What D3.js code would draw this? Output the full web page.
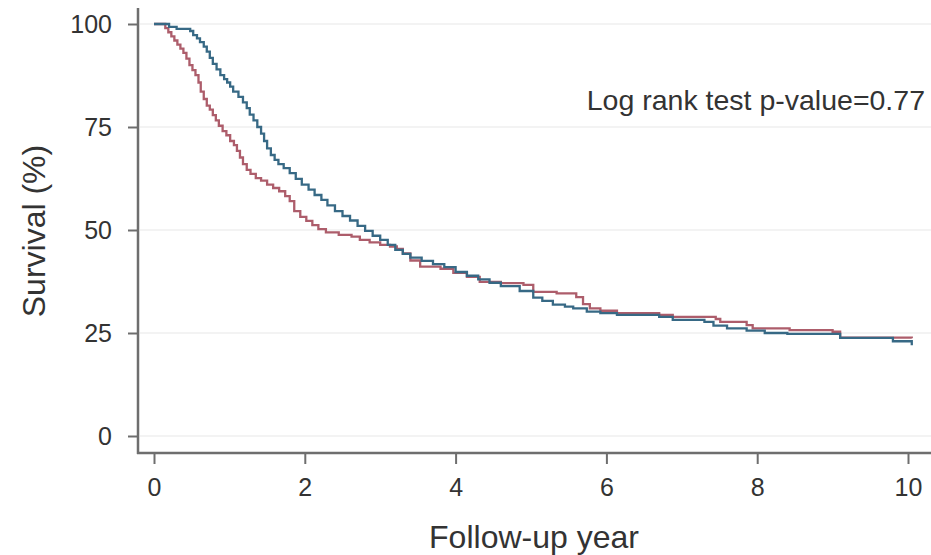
<!DOCTYPE html>
<html>
<head>
<meta charset="utf-8">
<script src="https://cdn.jsdelivr.net/npm/d3@7"></script>
<style>
  body { margin: 0; background: #fff; }
  svg text { font-family: "Liberation Sans", Arial, Helvetica, sans-serif; fill: #333; }
</style>
</head>
<body>
<div id="chart"></div>
<script>
/* global d3 */

// Kaplan-Meier steps (years, survival %)
var blueTime = [0, 0.2, 0.3, 0.48, 0.52, 0.57, 0.61, 0.66, 0.70, 0.74, 0.78, 0.83, 0.88, 0.93, 0.97, 1.01,
  1.05, 1.12, 1.18, 1.23, 1.27, 1.32, 1.37, 1.42, 1.46, 1.50, 1.55, 1.60, 1.65, 1.72, 1.80, 1.88, 1.96,
  2.05, 2.13, 2.22, 2.30, 2.40, 2.50, 2.60, 2.70, 2.80, 2.90, 3.00, 3.10, 3.20, 3.30, 3.40, 3.55, 3.70,
  3.85, 4.00, 4.15, 4.30, 4.45, 4.60, 4.85, 5.03, 5.15, 5.29, 5.45, 5.56, 5.74, 5.92, 6.14, 6.70, 6.88,
  7.30, 7.42, 7.60, 7.86, 8.10, 8.40, 9.10, 9.80, 10.05];
var blueSurv = [100, 99.3, 98.8, 98.3, 97.3, 96.5, 95.6, 94.5, 93.3, 91.8, 90.3, 89.0, 87.6, 86.6, 85.8, 84.8,
  83.6, 82.3, 81.0, 79.6, 78.0, 76.6, 75.0, 73.4, 71.6, 69.8, 68.2, 67.0, 66.0, 65.0, 63.8, 62.4, 61.0,
  59.8, 58.5, 57.3, 56.0, 54.6, 53.4, 52.3, 51.0, 49.8, 48.6, 47.6, 46.4, 45.2, 44.2, 43.3, 42.5, 41.7,
  41.0, 39.8, 38.9, 38.0, 37.2, 36.4, 35.2, 33.6, 32.8, 31.9, 31.4, 31.0, 30.2, 29.8, 29.4, 28.9, 28.2,
  27.7, 26.8, 26.1, 25.6, 25.0, 24.8, 23.8, 23.0, 22.0];

var redTime = [0, 0.15, 0.19, 0.23, 0.27, 0.31, 0.35, 0.39, 0.43, 0.47, 0.51, 0.55, 0.59, 0.62, 0.66, 0.70,
  0.74, 0.78, 0.82, 0.86, 0.91, 0.96, 1.01, 1.06, 1.10, 1.14, 1.18, 1.23, 1.28, 1.35, 1.42, 1.50, 1.58,
  1.66, 1.74, 1.80, 1.86, 1.94, 2.02, 2.10, 2.18, 2.28, 2.45, 2.62, 2.73, 2.86, 3.00, 3.13, 3.22, 3.30,
  3.40, 3.53, 3.80, 3.97, 4.15, 4.32, 4.60, 4.90, 5.03, 5.34, 5.60, 5.69, 5.78, 5.92, 6.14, 6.70, 6.88,
  7.45, 7.51, 7.86, 7.94, 8.43, 9.00, 9.10, 10.05];
var redSurv = [100, 99.0, 98.0, 97.0, 96.0, 95.0, 94.0, 93.0, 91.6, 90.0, 88.8, 87.6, 85.8, 83.6, 81.8, 80.2,
  79.2, 77.9, 76.6, 75.3, 74.0, 73.0, 71.6, 70.6, 69.2, 67.6, 66.0, 64.6, 63.6, 62.6, 62.0, 61.0, 60.2,
  59.4, 58.2, 57.0, 54.6, 53.2, 52.2, 51.2, 50.2, 49.4, 48.8, 48.4, 47.6, 47.0, 46.4, 46.0, 45.4, 44.3,
  42.6, 41.1, 40.6, 39.6, 38.6, 37.4, 37.1, 36.7, 35.0, 34.6, 33.7, 32.0, 31.0, 30.4, 29.8, 29.4, 28.9,
  28.4, 27.7, 26.9, 26.1, 25.7, 25.3, 23.9, 23.7];

var yTicks = [0, 25, 50, 75, 100];
var xTicks = [0, 2, 4, 6, 8, 10];
var xTitle = "Follow-up year",
  yTitle = "Survival (%)",
  pLabel = "Log rank test p-value=0.77";

var width = 931,
  height = 555,
  axisColor = "#6e6e6e",
  blueColor = "#376985",
  redColor = "#ad5d6b";

var x = d3.scaleLinear().domain([0, 10]).range([154, 908]);
var y = d3.scaleLinear().domain([0, 100]).range([436, 24]);

var svg = d3.select("#chart").append("svg")
  .attr("width", width)
  .attr("height", height);

// faint grid
svg.append("g")
  .selectAll("line")
  .data(yTicks)
  .join("line")
    .attr("x1", 140)
    .attr("x2", width)
    .attr("y1", function (d) { return y(d); })
    .attr("y2", function (d) { return y(d); })
    .attr("stroke", "#efefef")
    .attr("stroke-width", 1.5);

// survival curves
var line = d3.line()
  .curve(d3.curveStepAfter)
  .x(function (d) { return x(d[0]); })
  .y(function (d) { return y(d[1]); });

function pairs(t, s) { return t.map(function (v, i) { return [v, s[i]]; }); }

svg.append("path")
  .datum(pairs(redTime, redSurv))
  .attr("d", line)
  .attr("fill", "none")
  .attr("stroke", redColor)
  .attr("stroke-width", 2.3);

svg.append("path")
  .datum(pairs(blueTime, blueSurv))
  .attr("d", line)
  .attr("fill", "none")
  .attr("stroke", blueColor)
  .attr("stroke-width", 2.3);

// axes
var yAxis = svg.append("g")
  .attr("transform", "translate(138,0)")
  .call(d3.axisLeft(y).tickValues(yTicks).tickSize(10).tickPadding(16));

var xAxis = svg.append("g")
  .attr("transform", "translate(0,453)")
  .call(d3.axisBottom(x).tickValues(xTicks).tickSize(11).tickPadding(14));

[yAxis, xAxis].forEach(function (g) {
  g.select(".domain").remove();
  g.selectAll(".tick line").attr("stroke", axisColor).attr("stroke-width", 2);
  g.selectAll(".tick text")
    .attr("font-size", 25)
    .attr("font-family", null)
    .attr("fill", "#333");
});

svg.append("line")
  .attr("x1", 138).attr("x2", 138)
  .attr("y1", 8).attr("y2", 454)
  .attr("stroke", axisColor)
  .attr("stroke-width", 2.5);

svg.append("line")
  .attr("x1", 137).attr("x2", width)
  .attr("y1", 453).attr("y2", 453)
  .attr("stroke", axisColor)
  .attr("stroke-width", 2.5);

// titles
svg.append("text")
  .attr("x", 534)
  .attr("y", 548)
  .attr("text-anchor", "middle")
  .attr("font-size", 32)
  .text(xTitle);

svg.append("text")
  .attr("transform", "translate(45,231) rotate(-90)")
  .attr("text-anchor", "middle")
  .attr("font-size", 32)
  .text(yTitle);

svg.append("text")
  .attr("x", 925)
  .attr("y", 110)
  .attr("text-anchor", "end")
  .attr("font-size", 28.5)
  .text(pLabel);
</script>
</body>
</html>
